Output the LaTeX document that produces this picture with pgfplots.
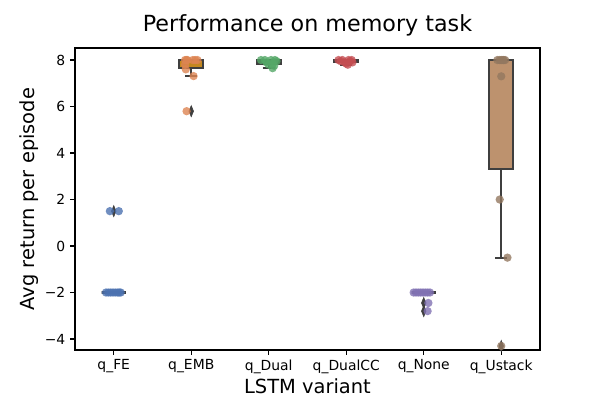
\documentclass[border=0pt]{standalone}
\usepackage{fontspec}
\setmainfont{DejaVu Sans}
\usepackage{pgfplots}
\pgfplotsset{compat=1.18}
\usepgfplotslibrary{statistics}
\definecolor{boxgray}{RGB}{63,63,63}
\definecolor{bFE}{RGB}{23,109,156}
\definecolor{bEMB}{RGB}{195,136,32}
\definecolor{bDual}{RGB}{21,138,106}
\definecolor{bDualCC}{RGB}{186,97,27}
\definecolor{bNone}{RGB}{194,131,182}
\definecolor{bUS}{RGB}{189,146,110}
\definecolor{pFE}{HTML}{4C72B0}
\definecolor{pEMB}{HTML}{DD8452}
\definecolor{pDual}{HTML}{55A868}
\definecolor{pDualCC}{HTML}{C44E52}
\definecolor{pNone}{HTML}{8172B3}
\definecolor{pUS}{HTML}{937860}
\begin{document}
\begin{tikzpicture}
\useasboundingbox (0,0) rectangle (432bp,288bp);
\begin{axis}[
  at={(54bp,36bp)}, anchor=south west,
  scale only axis, width=334.8bp, height=217.4bp,
  xmin=-0.5, xmax=5.5, ymin=-4.473, ymax=8.516,
  boxplot/draw direction=y,
  xtick={0,1,2,3,4,5},
  xticklabels={q\_FE,q\_EMB,q\_Dual,q\_DualCC,q\_None,q\_Ustack},
  ytick={-4,-2,0,2,4,6,8},
  yticklabels={−4,−2,0,2,4,6,8},
  tick align=outside, xtick pos=bottom, ytick pos=left,
  major tick length=3.5bp,
  every tick/.style={black, line width=0.8bp},
  axis line style={line width=0.8bp},
  ticklabel style={font=\fontsize{10bp}{12bp}\selectfont},
  title={Performance on memory task},
  title style={at={(axis description cs:0.5,1.0276)}, anchor=base, font=\fontsize{16bp}{19bp}\selectfont},
  xlabel={LSTM variant},
  xlabel style={at={(axis description cs:0.5,-0.1426)}, anchor=base, font=\fontsize{14bp}{17bp}\selectfont},
  ylabel={Avg return per episode},
  ylabel style={at={(axis description cs:-0.0986,0.5)}, anchor=center, font=\fontsize{14bp}{17bp}\selectfont},
  clip=false,
  pts/.style={only marks, mark=*, mark size=3bp, color=#1, mark options={draw opacity=0, fill=#1, fill opacity=0.8}},
  bx/.style={draw=boxgray, fill=#1, line width=1.5bp},
]
% boxes
\addplot[bx=bFE, boxplot prepared={draw position=0, lower whisker=-2, lower quartile=-2, median=-2, upper quartile=-2, upper whisker=-2, box extend=0.31, whisker extend=0.155}] coordinates {};
\addplot[bx=bEMB, boxplot prepared={draw position=1, lower whisker=7.3, lower quartile=7.65, median=8, upper quartile=8, upper whisker=8, box extend=0.31, whisker extend=0.155}] coordinates {};
\addplot[bx=bDual, boxplot prepared={draw position=2, lower whisker=7.65, lower quartile=7.8125, median=7.925, upper quartile=8, upper whisker=8, box extend=0.31, whisker extend=0.155}] coordinates {};
\addplot[bx=bDualCC, boxplot prepared={draw position=3, lower whisker=7.8, lower quartile=7.9, median=7.95, upper quartile=8, upper whisker=8, box extend=0.31, whisker extend=0.155}] coordinates {};
\addplot[bx=bNone, boxplot prepared={draw position=4, lower whisker=-2, lower quartile=-2, median=-2, upper quartile=-2, upper whisker=-2, box extend=0.31, whisker extend=0.155}] coordinates {};
\addplot[bx=bUS, boxplot prepared={draw position=5, lower whisker=-0.5, lower quartile=3.325, median=8, upper quartile=8, upper whisker=8, box extend=0.31, whisker extend=0.155}] coordinates {};
% outliers
\addplot[only marks, mark=diamond*, mark size=4bp, color=boxgray, mark options={fill=boxgray, draw=boxgray, xscale=0.55}] coordinates {(0,1.5) (1,5.8) (4,-2.45) (4,-2.8) (5,-4.3)};
% points
\addplot[pts=pFE] coordinates {
(-0.10,-2) (-0.07,-2) (-0.04,-2) (-0.01,-2) (0.02,-2) (0.05,-2) (0.07,-2) (0.09,-2) (-0.05,1.5) (0.065,1.5)};
\addplot[pts=pEMB] coordinates {
(0.92,8) (0.95,8) (0.94,8) (1.02,8) (1.05,8) (1.08,8) (0.92,7.8) (0.93,7.6) (1.03,7.31) (0.94,5.8)};
\addplot[pts=pDual] coordinates {
(1.90,8) (1.95,8) (2.03,8) (2.08,8) (2.10,7.95) (1.97,7.9) (2.05,7.85) (2.00,7.8) (2.07,7.75) (2.05,7.65)};
\addplot[pts=pDualCC] coordinates {
(2.90,8) (2.95,8) (3.03,8) (3.07,8) (2.93,7.95) (3.05,7.95) (2.98,7.9) (3.08,7.9) (3.00,7.85) (3.02,7.8)};
\addplot[pts=pNone] coordinates {
(3.87,-2) (3.90,-2) (3.93,-2) (3.96,-2) (3.99,-2) (4.02,-2) (4.05,-2) (4.08,-2) (4.06,-2.45) (4.05,-2.8)};
\addplot[pts=pUS] coordinates {
(4.95,8) (4.98,8) (5.00,8) (5.02,8) (5.05,8) (5.03,8) (5.00,7.3) (4.98,2.0) (5.08,-0.5) (5.00,-4.3)};
\end{axis}
\end{tikzpicture}
\end{document}
